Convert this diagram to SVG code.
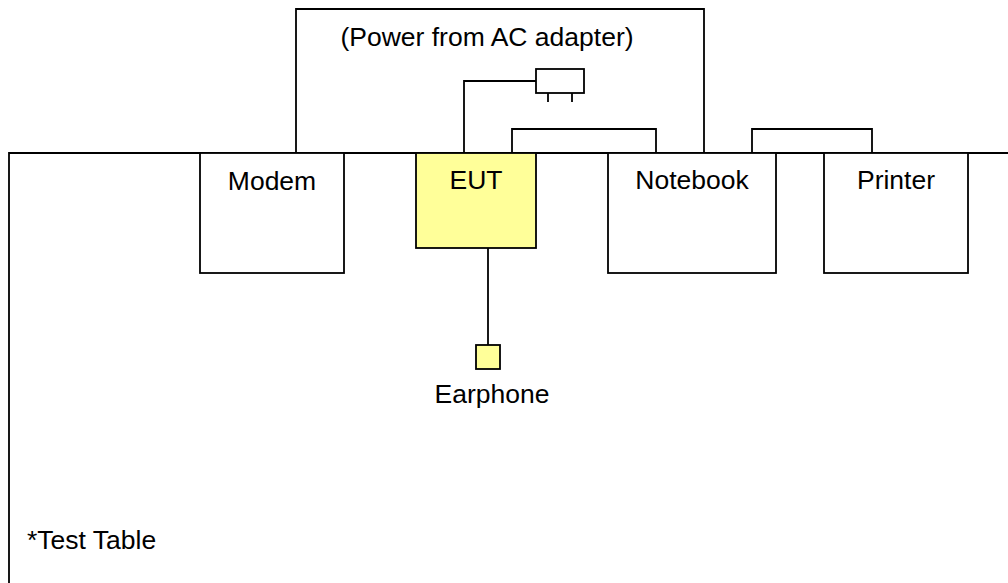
<svg xmlns="http://www.w3.org/2000/svg" width="1008" height="583" viewBox="0 0 1008 583">
<style>
.l{fill:none;stroke:#000;stroke-width:1.8}
.b{fill:#fff;stroke:#000;stroke-width:1.8}
.y{fill:#ffff99;stroke:#000;stroke-width:1.8}
.t{font-family:"Liberation Sans",Arial,sans-serif;font-size:26.5px;fill:#000;text-anchor:middle}
</style>
<rect width="1008" height="583" fill="#fff"/>
<g id="table">
<path class="l" d="M9 583 V153 H1008" stroke-width="2"/>
<text class="t" x="27" y="549" style="text-anchor:start">*Test Table</text>
</g>
<g id="connectors">
<path class="l" d="M296 153 V9 H704 V153"/>
<path class="l" d="M464 153 V81 H536"/>
<path class="l" d="M512 153 V129 H656 V153"/>
<path class="l" d="M752 153 V129 H872 V153"/>
<path class="l" d="M488 248 V345"/>
</g>
<g id="power">
<text class="t" x="487" y="46">(Power from AC adapter)</text>
</g>
<g id="adapter">
<rect class="b" x="536" y="69" width="48" height="24"/>
<path class="l" d="M548 93 V102 M572 93 V102"/>
</g>
<g id="modem">
<rect class="b" x="200" y="153" width="144" height="120"/>
<text class="t" x="272" y="190">Modem</text>
</g>
<g id="eut">
<rect class="y" x="416" y="153" width="120" height="95"/>
<text class="t" x="476" y="189">EUT</text>
</g>
<g id="notebook">
<rect class="b" x="608" y="153" width="168" height="120"/>
<text class="t" x="692" y="189">Notebook</text>
</g>
<g id="printer">
<rect class="b" x="824" y="153" width="144" height="120"/>
<text class="t" x="896" y="189">Printer</text>
</g>
<g id="earphone">
<rect class="y" x="476" y="345" width="24" height="24"/>
<text class="t" x="492" y="403">Earphone</text>
</g>
</svg>
